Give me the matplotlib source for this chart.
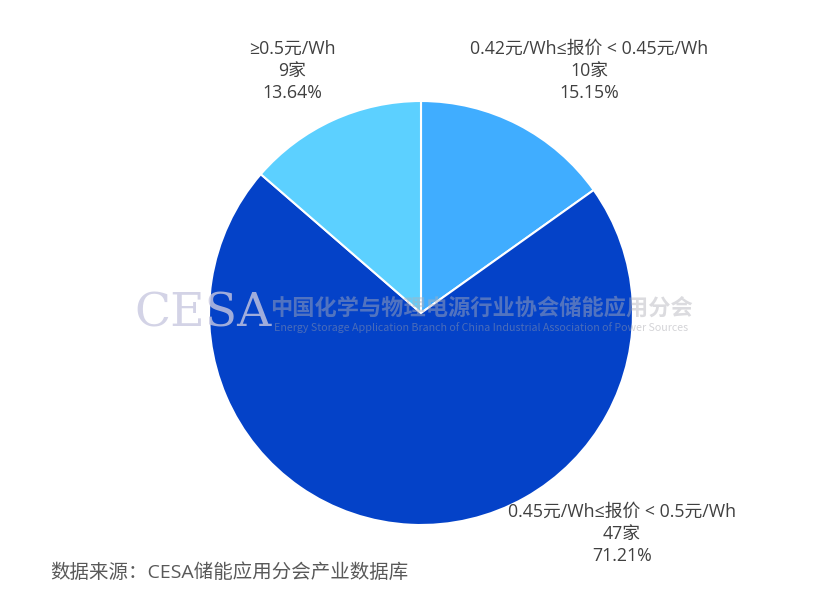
import matplotlib
matplotlib.use("Agg")
import matplotlib.pyplot as plt

plt.rcParams['font.family'] = ['Open Sans', 'Noto Sans CJK SC', 'DejaVu Sans']

# Données
categories = ["0.42元/Wh≤报价 < 0.45元/Wh", "0.45元/Wh≤报价 < 0.5元/Wh", "≥0.5元/Wh"]
counts = [10, 47, 9]
percents = ["15.15%", "71.21%", "13.64%"]
colors = ["#40ADFF", "#0442C8", "#5CD0FF"]

fig = plt.figure(figsize=(8.30, 6.01), dpi=100)
ax = fig.add_axes([0, 0, 1, 1])

ax.pie(counts, colors=colors, startangle=90, counterclock=False,
       center=(421, 288), radius=212, frame=True,
       wedgeprops=dict(edgecolor="white", linewidth=1.5))
ax.set_xlim(0, 830)
ax.set_ylim(0, 601)
ax.set_aspect("equal")
ax.axis("off")

# Etiquettes
label_pos = [(589, 530), (622, 67), (292, 530)]
for (x, y), cat, n, p in zip(label_pos, categories, counts, percents):
    ax.text(x, y, f"{cat}\n{n}家\n{p}", ha="center", va="center",
            fontsize=12.8, color="#404040", linespacing=1.28)

# Filigrane
ax.text(203, 287, "CESA", ha="center", va="center", fontsize=34,
        family="DejaVu Serif", color="#c8c8e0", alpha=0.8)
ax.text(481, 293, "中国化学与物理电源行业协会储能应用分会", ha="center", va="center",
        fontsize=16, color="#b0b0b8", alpha=0.45, fontweight="bold",
        family="Noto Sans CJK SC")
ax.text(481, 273, "Energy Storage Application Branch of China Industrial Association of Power Sources",
        ha="center", va="center", fontsize=7.7, color="#a0a0a8", alpha=0.45,
        family="Noto Sans CJK SC")

# Source
ax.text(50, 29, "数据来源：CESA储能应用分会产业数据库", ha="left", va="center",
        fontsize=14, color="#595959")

fig.savefig("out.png", dpi=100)
